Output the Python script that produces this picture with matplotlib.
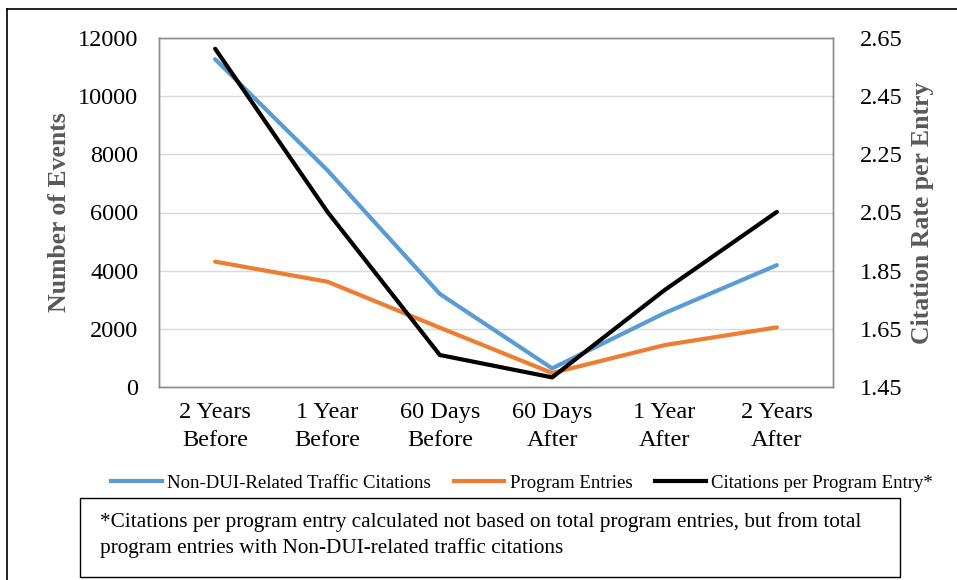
import matplotlib

matplotlib.use("Agg")
import matplotlib.pyplot as plt
from matplotlib.lines import Line2D
from matplotlib.patches import Rectangle

plt.rcParams["font.family"] = ["Liberation Serif", "DejaVu Serif"]

periods = ["2 Years\nBefore", "1 Year\nBefore", "60 Days\nBefore",
           "60 Days\nAfter", "1 Year\nAfter", "2 Years\nAfter"]
citations = [11270, 7450, 3200, 640, 2540, 4190]
entries = [4310, 3620, 2040, 480, 1440, 2050]
rate = [2.613, 2.052, 1.560, 1.483, 1.783, 2.052]
rate_ticks = [1.45, 1.65, 1.85, 2.05, 2.25, 2.45, 2.65]

blue = "#5B9BD5"
orange = "#ED7D31"
black = "#000000"
title_gray = "#595959"

W, H = 957, 580
fig = plt.figure(figsize=(W / 100, H / 100), dpi=100)
fig.patch.set_facecolor("white")

ax = fig.add_axes([159 / W, 1 - 387 / H, (833 - 159) / W, (387 - 38) / H])
ax2 = ax.twinx()

x = list(range(len(periods)))
ax.plot(x, citations, color=blue, lw=3.0, solid_capstyle="round", zorder=3)
ax.plot(x, entries, color=orange, lw=3.0, solid_capstyle="round", zorder=3)
ax2.plot(x, rate, color=black, lw=3.0, solid_capstyle="round", zorder=4)

ax.set_xlim(-0.5, 5.5)
ax.set_ylim(0, 12000)
ax.set_yticks(range(0, 12001, 2000))
ax2.set_ylim(1.45, 2.65)
ax2.set_yticks(rate_ticks)
ax2.set_yticklabels([f"{v:.2f}" for v in rate_ticks])

ax.set_xticks(x)
ax.set_xticklabels(periods, fontsize=18, linespacing=1.4)
ax.grid(axis="y", color="#D9D9D9", lw=1.0, zorder=0)
ax.set_axisbelow(True)

for a in (ax, ax2):
    a.tick_params(length=0, labelsize=17.5, colors=black)
    for s in a.spines.values():
        s.set_color("#8C8C8C")
        s.set_linewidth(1.0)
ax.tick_params(axis="y", pad=15)
ax2.tick_params(axis="y", pad=19)
ax.tick_params(axis="x", pad=11)

ax.set_ylabel("Number of Events", fontsize=18.5, fontweight="bold", color=title_gray, labelpad=5)
ax2.set_ylabel("Citation Rate per Entry", fontsize=18.5, fontweight="bold", color=title_gray,
               rotation=90, labelpad=6)

fig.legend(
    handles=[
        Line2D([0], [0], color=blue, lw=3.0, label="Non-DUI-Related Traffic Citations"),
        Line2D([0], [0], color=orange, lw=3.0, label="Program Entries"),
        Line2D([0], [0], color=black, lw=3.0, label="Citations per Program Entry*"),
    ],
    loc="center",
    bbox_to_anchor=(522 / W, 1 - 483 / H),
    ncol=3,
    frameon=False,
    fontsize=13.5,
    handlelength=2.7,
    handletextpad=0.3,
    columnspacing=1.2,
)

# footnote box
fig.patches.append(Rectangle((80 / W, 1 - 577 / H), (900 - 80) / W, (577 - 498) / H,
                             transform=fig.transFigure, facecolor="white",
                             edgecolor=black, lw=1.0))
fig.text(100 / W, 1 - 535 / H,
         "*Citations per program entry calculated not based on total program entries, but from total\n"
         "program entries with Non-DUI-related traffic citations",
         fontsize=15.3, ha="left", va="center", linespacing=1.4)

# outer border (left and top visible)
fig.add_artist(Line2D([7 / W, 7 / W], [0, 1 - 9 / H], transform=fig.transFigure, color=black, lw=1.2))
fig.add_artist(Line2D([7 / W, 1], [1 - 9 / H, 1 - 9 / H], transform=fig.transFigure, color=black, lw=1.2))

fig.savefig("out.png", dpi=100, facecolor="white")
